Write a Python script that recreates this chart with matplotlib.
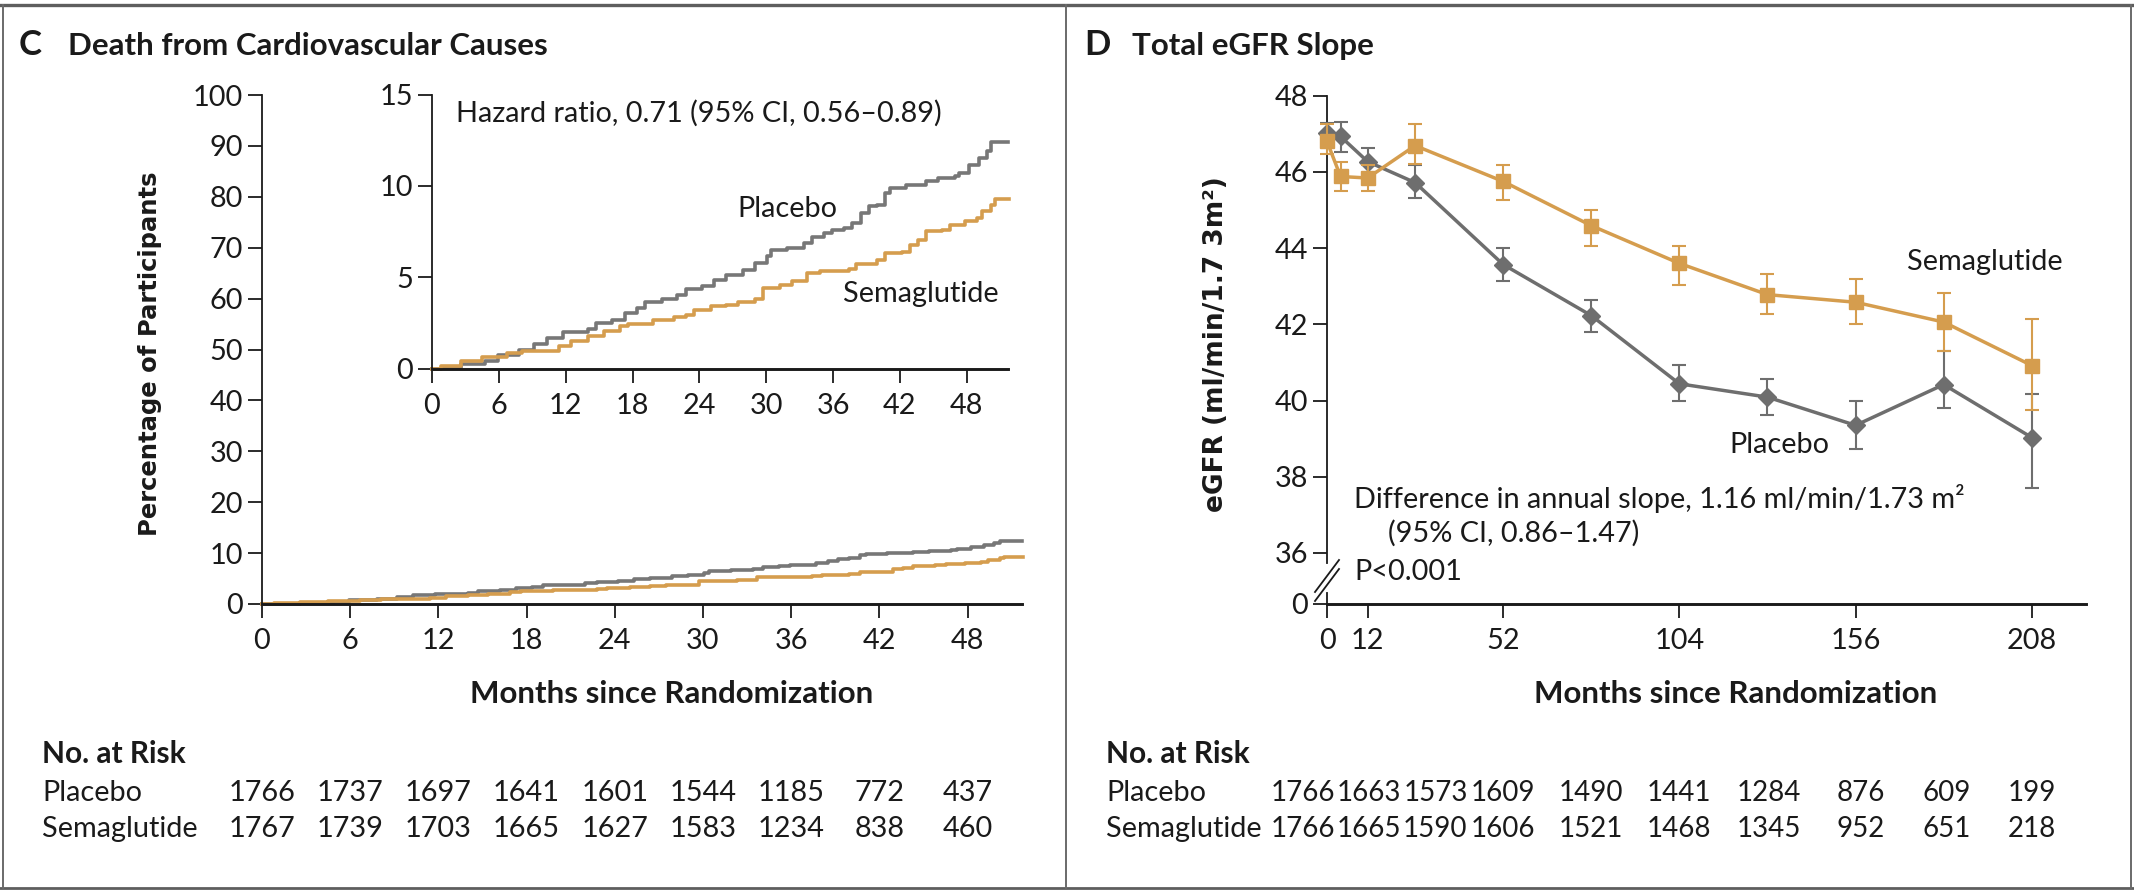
import matplotlib
matplotlib.use('Agg')
import matplotlib.pyplot as plt
from matplotlib.lines import Line2D
from matplotlib.transforms import blended_transform_factory

W, H, DPI = 2134, 892, 100

# ---------------- data: panel C (cumulative incidence, %) ----------------
month_ticks = [0, 6, 12, 18, 24, 30, 36, 42, 48]
placebo_t = [0, 0.8, 2.6, 4.8, 5.9, 7.8, 9.2, 10.3, 11.8, 14.0, 14.7, 16.2, 17.3, 18.4, 19.1,
             20.6, 22.0, 22.8, 24.2, 25.3, 26.4, 27.9, 29.0, 30.1, 30.4, 31.9, 33.4, 34.1,
             35.2, 35.9, 37.0, 37.7, 38.5, 39.2, 39.9, 40.7, 41.1, 42.5, 44.3, 45.4, 46.9,
             47.3, 48.2, 49.1, 49.8, 50.2, 51.7]
placebo_v = [0, 0.08, 0.25, 0.42, 0.78, 1.06, 1.38, 1.69, 2.0, 2.19, 2.5, 2.7, 3.06, 3.33, 3.64,
             3.83, 4.06, 4.37, 4.52, 4.85, 5.15, 5.43, 5.79, 6.16, 6.52, 6.61, 6.89, 7.2,
             7.43, 7.58, 7.7, 7.98, 8.52, 8.89, 8.98, 9.62, 9.89, 10.07, 10.25, 10.44, 10.53,
             10.71, 11.17, 11.53, 11.89, 12.39, 12.39]
sema_t = [0, 0.8, 2.6, 4.5, 6.7, 8.1, 10.3, 11.4, 12.5, 14.0, 15.4, 16.9, 17.6, 19.8, 21.7,
          22.8, 23.5, 25.0, 26.4, 27.5, 29.0, 29.7, 31.2, 32.3, 33.7, 34.8, 37.4, 38.1,
          39.9, 40.7, 42.2, 42.9, 43.6, 44.3, 45.8, 46.5, 47.8, 48.9, 49.4, 50.2, 50.5, 51.8]
sema_v = [0, 0.18, 0.42, 0.64, 0.87, 1.0, 1.0, 1.24, 1.55, 1.79, 2.06, 2.33, 2.46, 2.7, 2.82,
          2.97, 3.24, 3.42, 3.52, 3.64, 3.83, 4.43, 4.61, 4.79, 5.25, 5.37, 5.46, 5.76,
          5.97, 6.34, 6.38, 6.79, 7.07, 7.52, 7.61, 7.85, 8.07, 8.25, 8.62, 8.98, 9.29, 9.29]
risk_placebo_C = [1766, 1737, 1697, 1641, 1601, 1544, 1185, 772, 437]
risk_sema_C = [1767, 1739, 1703, 1665, 1627, 1583, 1234, 838, 460]

# ---------------- data: panel D (eGFR) ----------------
weeks = [0, 4, 12, 26, 52, 78, 104, 130, 156, 182, 208]
egfr_placebo = [47.03, 46.93, 46.27, 45.72, 43.57, 42.23, 40.44, 40.09, 39.35, 40.42, 39.03]
egfr_placebo_lo = [46.75, 46.53, 45.92, 45.31, 43.13, 41.80, 39.99, 39.61, 38.74, 39.81, 37.70]
egfr_placebo_hi = [47.28, 47.32, 46.64, 46.18, 44.00, 42.65, 40.93, 40.56, 39.99, 41.30, 40.16]
egfr_sema = [46.80, 45.88, 45.84, 46.69, 45.75, 44.59, 43.60, 42.78, 42.58, 42.06, 40.92]
egfr_sema_lo = [46.47, 45.51, 45.51, 46.20, 45.27, 44.06, 43.04, 42.26, 42.02, 41.30, 39.75]
egfr_sema_hi = [47.26, 46.27, 46.18, 47.25, 46.18, 45.00, 44.06, 43.33, 43.19, 42.83, 42.13]
week_ticks = [0, 12, 52, 104, 156, 208]
egfr_ticks = [36, 38, 40, 42, 44, 46, 48]
risk_pos_D = [-7, 12.4, 32, 52, 78, 104, 130.5, 157.5, 183, 208]
risk_placebo_D = [1766, 1663, 1573, 1609, 1490, 1441, 1284, 876, 609, 199]
risk_sema_D = [1766, 1665, 1590, 1606, 1521, 1468, 1345, 952, 651, 218]

GRAY = '#777777'
GRAY_D = '#6e6e6e'
ORANGE = '#d59d4e'
TXT = '#1a1a1a'
REG = ['Lato', 'DejaVu Sans']
FS = 20.8      # regular text / tick labels
FSB = 22.5     # bold headings
FSL = 25       # panel letters

plt.rcParams['font.family'] = REG
plt.rcParams['text.color'] = TXT

fig = plt.figure(figsize=(W / DPI, H / DPI), dpi=DPI)


def fx(x):
    return x / W


def fy(y):
    return 1 - y / H


def ax_at(x0, y_top, x1, y_bot):
    return fig.add_axes([fx(x0), fy(y_bot), fx(x1) - fx(x0), fy(y_top) - fy(y_bot)])


def style(ax):
    for s in ['top', 'right']:
        ax.spines[s].set_visible(False)
    ax.spines['left'].set_linewidth(1.3)
    ax.spines['bottom'].set_linewidth(2.1)
    ax.spines['left'].set_color(TXT)
    ax.spines['bottom'].set_color(TXT)
    ax.tick_params(axis='both', direction='out', length=10, width=1.3, color=TXT,
                   labelsize=FS, labelcolor=TXT)
    ax.tick_params(axis='y', pad=3.5)
    ax.tick_params(axis='x', pad=7.5)
    ax.patch.set_alpha(0)


# ---------------- panel borders ----------------
fig.add_artist(Line2D([0, 1], [fy(5), fy(5)], transform=fig.transFigure, color='#5e5e5e', lw=2.4))
fig.add_artist(Line2D([0, 1], [fy(888), fy(888)], transform=fig.transFigure, color='#5e5e5e', lw=2.0))
for xb in [3, 1066, 2131]:
    fig.add_artist(Line2D([fx(xb), fx(xb)], [fy(5), fy(888)], transform=fig.transFigure,
                          color='#6a6a6a', lw=1.4))

# ---------------- panel C ----------------
fig.text(fx(19), fy(55), 'C', fontsize=FSL, fontweight='bold', va='baseline')
fig.text(fx(68), fy(55), 'Death from Cardiovascular Causes', fontsize=FSB, fontweight='bold',
         va='baseline')

axC = ax_at(262, 95, 1022, 604)
style(axC)
axC.plot(placebo_t, placebo_v, drawstyle='steps-post', color=GRAY, lw=2.6, clip_on=False)
axC.plot(sema_t, sema_v, drawstyle='steps-post', color=ORANGE, lw=2.6, clip_on=False)
axC.set_xlim(0, 51.7)
axC.set_ylim(0, 100)
axC.set_yticks(range(0, 101, 10))
axC.set_xticks(month_ticks)
fig.text(fx(150), fy(354), 'Percentage of Participants', rotation=90, ha='center', va='center',
         fontsize=17.5, fontweight='bold', family=['DejaVu Sans'])
fig.text(fx(672), fy(703), 'Months since Randomization', ha='center', va='baseline',
         fontsize=FSB, fontweight='bold')

# inset
axI = ax_at(432, 94.5, 1008, 369)
style(axI)
axI.plot(placebo_t, placebo_v, drawstyle='steps-post', color=GRAY, lw=2.6, clip_on=False)
axI.plot(sema_t, sema_v, drawstyle='steps-post', color=ORANGE, lw=2.6, clip_on=False)
axI.set_xlim(0, 51.7)
axI.set_ylim(0, 15)
axI.set_yticks([0, 5, 10, 15])
axI.set_xticks(month_ticks)
fig.text(fx(456), fy(121.7), 'Hazard ratio, 0.71 (95% CI, 0.56\u20130.89)', fontsize=FS,
         va='baseline')
fig.text(fx(737), fy(217), 'Placebo', fontsize=FS, va='baseline')
fig.text(fx(843), fy(302), 'Semaglutide', fontsize=FS, va='baseline')

# no. at risk C
trC = blended_transform_factory(axC.transData, fig.transFigure)
fig.text(fx(42), fy(763), 'No. at Risk', fontsize=21.5, fontweight='bold', va='baseline')
fig.text(fx(42), fy(801), 'Placebo', fontsize=FS, va='baseline')
fig.text(fx(42), fy(837), 'Semaglutide', fontsize=FS, va='baseline')
for m, a, b in zip(month_ticks, risk_placebo_C, risk_sema_C):
    axC.text(m, fy(801), str(a), transform=trC, ha='center', va='baseline', fontsize=FS)
    axC.text(m, fy(837), str(b), transform=trC, ha='center', va='baseline', fontsize=FS)

# ---------------- panel D ----------------
fig.text(fx(1084), fy(55), 'D', fontsize=FSL, fontweight='bold', va='baseline')
fig.text(fx(1132), fy(55), 'Total eGFR Slope', fontsize=FSB, fontweight='bold', va='baseline')

y_bottom = 36 - (604 - 553) / 38.1  # axis break: this level is labelled 0
axD = ax_at(1327, 95.7, 2086, 604)
style(axD)
axD.set_xlim(0, 224)
axD.set_ylim(y_bottom, 48)
axD.set_xticks(week_ticks)
axD.set_yticks([y_bottom] + egfr_ticks)
axD.set_yticklabels(['0'] + [str(t) for t in egfr_ticks])

pl_err = [[v - lo for v, lo in zip(egfr_placebo, egfr_placebo_lo)],
          [hi - v for v, hi in zip(egfr_placebo, egfr_placebo_hi)]]
se_err = [[v - lo for v, lo in zip(egfr_sema, egfr_sema_lo)],
          [hi - v for v, hi in zip(egfr_sema, egfr_sema_hi)]]
axD.errorbar(weeks, egfr_placebo, yerr=pl_err, color=GRAY_D, lw=2.5, marker='D', ms=9.5,
             capsize=5, elinewidth=1.5, capthick=1.5, clip_on=False, zorder=3)
axD.errorbar(weeks, egfr_sema, yerr=se_err, color=ORANGE, lw=2.5, marker='s', ms=10,
             capsize=5, elinewidth=1.5, capthick=1.5, clip_on=False, zorder=4)

fig.text(fx(1216), fy(344), 'eGFR (ml/min/1.7 3m\u00b2)', rotation=90, ha='center', va='center',
         fontsize=19, fontweight='bold', family=['DejaVu Sans'])
fig.text(fx(1736), fy(703), 'Months since Randomization', ha='center', va='baseline',
         fontsize=FSB, fontweight='bold')
fig.text(fx(1907), fy(270), 'Semaglutide', fontsize=FS, va='baseline')
fig.text(fx(1729), fy(453), 'Placebo', fontsize=FS, va='baseline')
fig.text(fx(1354), fy(508), 'Difference in annual slope, 1.16 ml/min/1.73 m\u00b2', fontsize=FS,
         va='baseline')
fig.text(fx(1388), fy(542), '(95% CI, 0.86\u20131.47)', fontsize=FS, va='baseline')
fig.text(fx(1354), fy(580), 'P<0.001', fontsize=FS, va='baseline')

# axis break marks
fig.add_artist(Line2D([fx(1327), fx(1327)], [fy(566), fy(590)], transform=fig.transFigure,
                      color='white', lw=3, zorder=5))
for dy in (0, 9):
    fig.add_artist(Line2D([fx(1315), fx(1339)], [fy(592 + dy), fy(560 + dy)],
                          transform=fig.transFigure, color=TXT, lw=1.3, zorder=6))

# no. at risk D
trD = blended_transform_factory(axD.transData, fig.transFigure)
fig.text(fx(1106), fy(763), 'No. at Risk', fontsize=21.5, fontweight='bold', va='baseline')
fig.text(fx(1106), fy(801), 'Placebo', fontsize=FS, va='baseline')
fig.text(fx(1106), fy(837), 'Semaglutide', fontsize=FS, va='baseline')
for p, a, b in zip(risk_pos_D, risk_placebo_D, risk_sema_D):
    axD.text(p, fy(801), str(a), transform=trD, ha='center', va='baseline', fontsize=20)
    axD.text(p, fy(837), str(b), transform=trD, ha='center', va='baseline', fontsize=20)

fig.savefig('out.png', dpi=DPI, facecolor='white')
